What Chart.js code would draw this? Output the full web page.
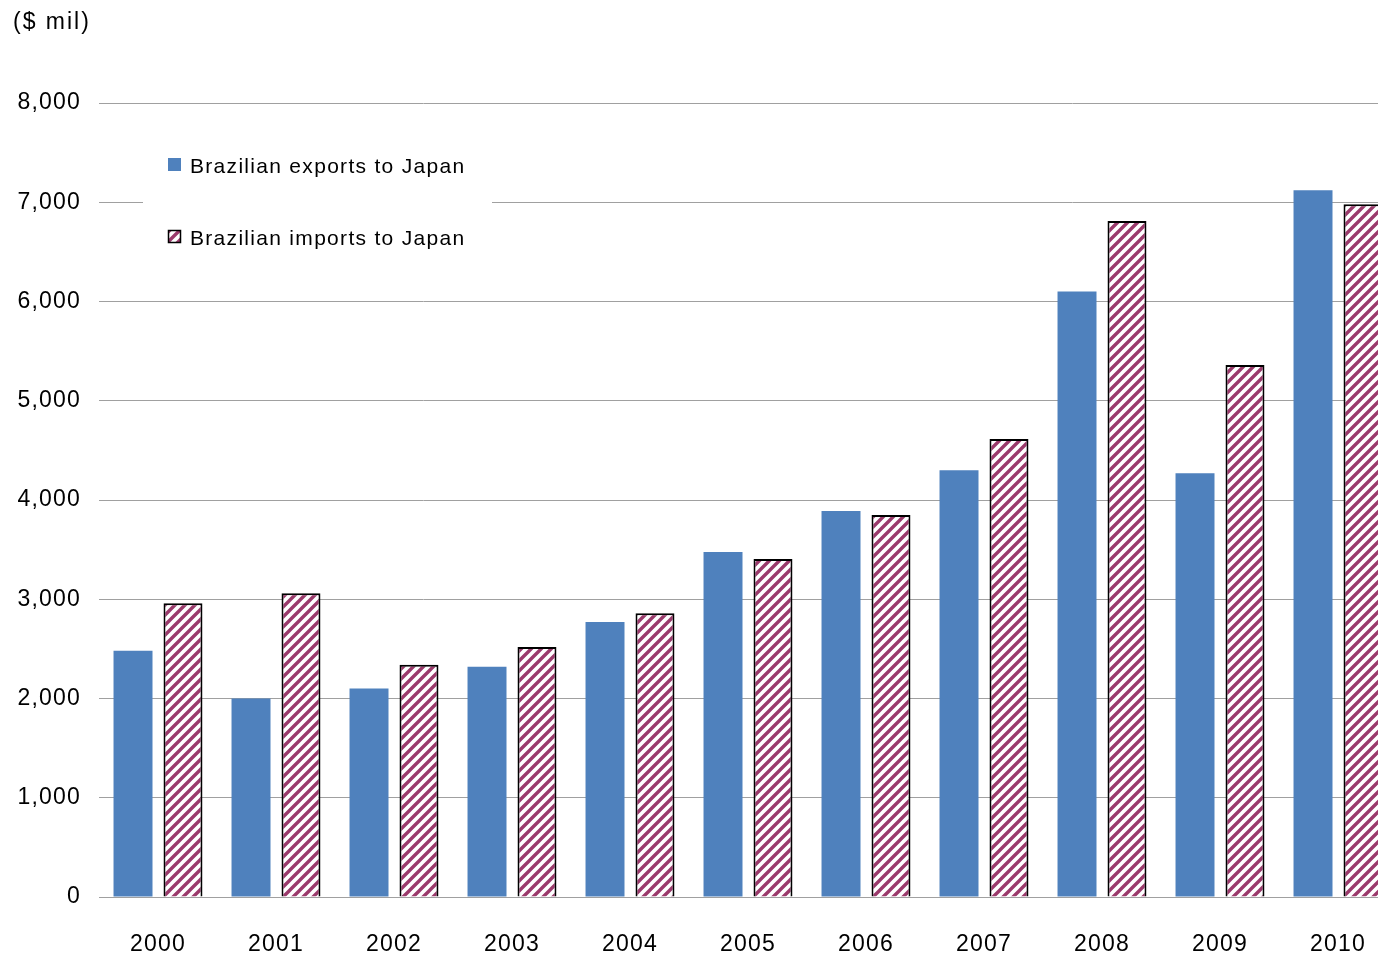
<!DOCTYPE html>
<html>
<head>
<meta charset="utf-8">
<script src="https://cdn.jsdelivr.net/npm/chart.js@4/dist/chart.umd.min.js"></script>
<style>
  html, body { margin: 0; padding: 0; background: #fff; overflow: hidden; }
  .wrap { width: 1400px; height: 958px; }
</style>
</head>
<body>
<div class="wrap"><canvas id="chart" width="1400" height="958"></canvas></div>
<script>
const years = ["2000","2001","2002","2003","2004","2005","2006","2007","2008","2009","2010"];
const exportsToJapan = [2480, 2000, 2100, 2320, 2770, 3475, 3890, 4300, 6100, 4270, 7120];
const importsToJapan = [2960, 3060, 2340, 2520, 2860, 3405, 3850, 4615, 6810, 5360, 6980];
const seriesNames = ["Brazilian exports to Japan", "Brazilian imports to Japan"];
const unitLabel = "($ mil)";

const canvas = document.getElementById("chart");
const ctx = canvas.getContext("2d");
const FONT = "Liberation Sans, Arial, sans-serif";
const BLUE = "#4f81bd";
const MAROON = "#9b3a6c";

const makeHatch = () => {
  const c = document.createElement("canvas");
  c.width = 10; c.height = 10;
  const g = c.getContext("2d");
  g.fillStyle = "#fff";
  g.fillRect(0, 0, 10, 10);
  g.strokeStyle = MAROON;
  g.lineWidth = 3.4;
  g.beginPath();
  g.moveTo(0, 10); g.lineTo(10, 0);
  g.moveTo(-5, 5); g.lineTo(5, -5);
  g.moveTo(5, 15); g.lineTo(15, 5);
  g.stroke();
  return ctx.createPattern(c, "repeat");
};
const hatch = makeHatch();

// slightly wider letter spacing like the original rendering
const spacing = {
  id: "spacing",
  beforeDraw(chart) { chart.ctx.letterSpacing = "1.2px"; },
};

// legend box + unit label drawn on the canvas
const overlay = {
  id: "overlay",
  afterDatasetsDraw(chart) {
    const c = chart.ctx;
    c.save();
    c.fillStyle = "#fff";
    c.fillRect(143, 140, 349, 125);
    c.letterSpacing = "1.3px";
    c.font = "21px " + FONT;
    c.textBaseline = "middle";
    c.fillStyle = BLUE;
    c.fillRect(168, 158, 13, 13);
    c.fillStyle = hatch;
    c.fillRect(168, 230, 13, 13);
    c.strokeStyle = "#000";
    c.lineWidth = 1.5;
    c.strokeRect(168.5, 230.5, 12, 12);
    c.fillStyle = "#000";
    c.fillText(seriesNames[0], 190, 167);
    c.fillText(seriesNames[1], 190, 239);
    c.letterSpacing = "2px";
    c.font = "23px " + FONT;
    c.fillText(unitLabel, 13, 23);
    c.restore();
  }
};

new Chart(canvas, {
  type: "bar",
  data: {
    labels: years,
    datasets: [
      {
        label: seriesNames[0],
        data: exportsToJapan,
        backgroundColor: BLUE,
        borderWidth: 0,
      },
      {
        label: seriesNames[1],
        data: importsToJapan,
        backgroundColor: hatch,
        borderColor: "#000",
        borderWidth: 2,
        borderSkipped: "start",
      },
    ],
  },
  options: {
    responsive: false,
    animation: false,
    events: [],
    categoryPercentage: 0.847,
    barPercentage: 0.78,
    layout: { padding: { top: 103, right: 3, left: 0, bottom: 0 } },
    plugins: {
      legend: { display: false },
      tooltip: { enabled: false },
    },
    scales: {
      x: {
        grid: { display: false, drawTicks: false },
        border: { display: true, color: "#a0a0a0", width: 1 },
        ticks: { color: "#000", font: { family: FONT, size: 23 }, padding: 34 },
        afterFit: (s) => { s.height = 61; },
      },
      y: {
        min: 0,
        max: 8000,
        grid: { color: "#a0a0a0", lineWidth: 1, drawTicks: false },
        border: { display: false },
        ticks: {
          stepSize: 1000,
          color: "#000",
          font: { family: FONT, size: 23 },
          padding: 18,
          callback: (v) => v.toLocaleString("en-US"),
        },
        afterFit: (s) => { s.width = 99; },
      },
    },
  },
  plugins: [spacing, overlay],
});
</script>
</body>
</html>
